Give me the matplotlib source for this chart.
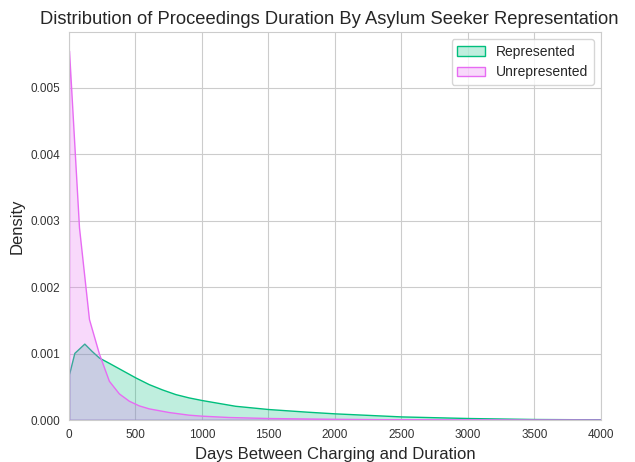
import matplotlib
matplotlib.use("Agg")
import matplotlib.pyplot as plt
import seaborn as sns
from matplotlib.patches import Patch
from matplotlib.ticker import FormatStrFormatter
from matplotlib.colors import to_rgba

sns.set_style("whitegrid")
plt.rcParams['font.family'] = ['Liberation Sans', 'DejaVu Sans']

# Data
rep_days = [0, 40, 115, 170, 225, 300, 400, 500, 600, 700, 800, 900, 1000, 1250,
            1500, 1800, 2000, 2500, 3000, 3500, 4000, 4500]
rep_density = [0.00069, 0.00101, 0.00115, 0.00104, 0.00094, 0.00086, 0.00075,
               0.00064, 0.00054, 0.00046, 0.00039, 0.00034, 0.00030, 0.000214,
               0.000165, 0.000124, 0.000100, 0.000054, 0.000030, 0.000015,
               0.000010, 0.000007]

unrep_days = [0, 75, 150, 225, 300, 375, 450, 525, 600, 750, 900, 1000, 1200,
              1500, 2000, 2500, 3000, 3500, 4000, 4500]
unrep_density = [0.00556, 0.00290, 0.00152, 0.00100, 0.00059, 0.00040, 0.00029,
                 0.00022, 0.000175, 0.00012, 0.00008, 0.000065, 0.000045,
                 0.000030, 0.000018, 0.000010, 0.000007, 0.000005, 0.000004, 0.000003]

labels = ["Represented", "Unrepresented"]
colors = ["#00BF7D", "#E76BF3"]

fig = plt.figure(figsize=(6.35, 4.62), dpi=100)
ax = fig.add_axes([0.1087, 0.0909, 0.8373, 0.8398])

for xs, ys, c in [(rep_days, rep_density, colors[0]),
                  (unrep_days, unrep_density, colors[1])]:
    ax.fill_between(xs, 0, ys, facecolor=to_rgba(c, 0.25),
                    edgecolor=to_rgba(c, 1.0), linewidth=1.0)

ax.set_xlim(0, 4000)
ax.set_ylim(0, 0.00584)
ax.set_xticks(range(0, 4001, 500))
ax.yaxis.set_major_formatter(FormatStrFormatter('%.3f'))
ax.tick_params(axis='both', labelsize=8.5, colors='#333333', pad=3)

ax.set_title("Distribution of Proceedings Duration By Asylum Seeker Representation",
             fontsize=13.2, color='#262626', x=0.49)
ax.set_xlabel("Days Between Charging and Duration", fontsize=12, color='#262626')
ax.set_ylabel("Density", fontsize=12, color='#262626')

handles = [Patch(facecolor=to_rgba(c, 0.25), edgecolor=to_rgba(c, 1.0), label=l)
           for c, l in zip(colors, labels)]
ax.legend(handles=handles, loc='upper right', fontsize=10)

fig.savefig("out.png", dpi=100)
